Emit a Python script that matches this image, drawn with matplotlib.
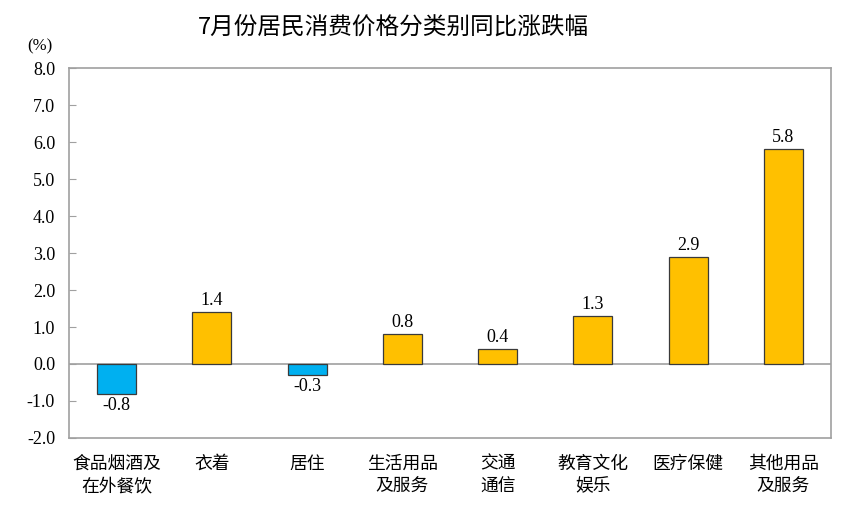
import matplotlib.pyplot as plt
import numpy as np

categories = ["食品烟酒及\n在外餐饮", "衣着", "居住", "生活用品\n及服务", "交通\n通信", "教育文化\n娱乐", "医疗保健", "其他用品\n及服务"]
values = [-0.8, 1.4, -0.3, 0.8, 0.4, 1.3, 2.9, 5.8]
yticks = [-2.0, -1.0, 0.0, 1.0, 2.0, 3.0, 4.0, 5.0, 6.0, 7.0, 8.0]

cjk = ['Noto Sans CJK SC', 'DejaVu Sans']
serif = 'Liberation Serif'

fig = plt.figure(figsize=(8.56, 5.2), dpi=100)
ax = fig.add_axes([0.0806, 0.1577, 0.8902, 0.7115])

x = np.arange(len(values))
colors = ['#00B0F0' if v < 0 else '#FFC000' for v in values]
ax.bar(x, values, width=0.41, color=colors, edgecolor='#3a3a3a', linewidth=0.9, zorder=3)
ax.axhline(0, color='#a0a0a0', linewidth=1.2, zorder=2)

for xi, v in zip(x, values):
    if v >= 0:
        ax.text(xi, v + 0.08, f"{v:.1f}", ha='center', va='bottom', fontsize=13, family=serif)
    else:
        ax.text(xi, v - 0.08, f"{v:.1f}", ha='center', va='top', fontsize=13, family=serif)

ax.set_xlim(-0.5, len(values) - 0.5)
ax.set_ylim(-2, 8)
ax.set_yticks(yticks)
ax.set_yticklabels([f"{t:.1f}" for t in yticks], family=serif, fontsize=13)
ax.tick_params(axis='y', direction='in', length=5, color='#a0a0a0', pad=10)
ax.set_xticks(x)
ax.set_xticklabels(categories, family=cjk, fontsize=12.8, linespacing=1.35)
ax.tick_params(axis='x', length=0, pad=12)
for s in ax.spines.values():
    s.set_color('#a0a0a0')
    s.set_linewidth(1.2)

fig.text(0.0315, 0.91, "(%)", family=serif, fontsize=12, ha='left', va='center')
fig.text(0.46, 0.948, "7月份居民消费价格分类别同比涨跌幅", family=cjk, fontsize=17, ha='center', va='center')

fig.savefig("out.png", dpi=100)
